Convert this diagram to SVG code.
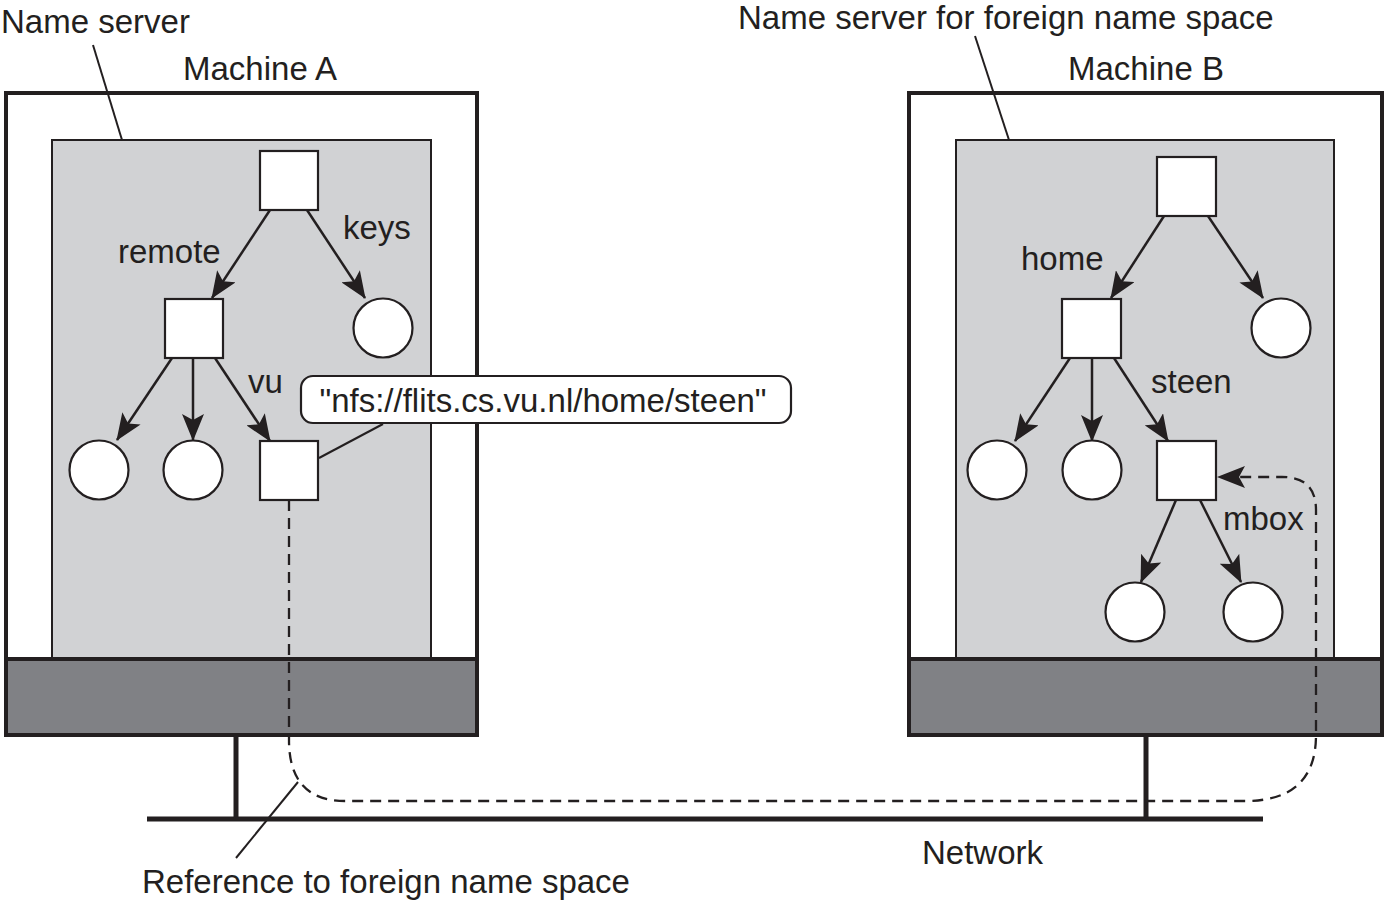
<svg xmlns="http://www.w3.org/2000/svg" width="1388" height="904" viewBox="0 0 1388 904">
<style>
text{font-family:"Liberation Sans",Arial,sans-serif;font-size:33px;fill:#231f20}
.frame{fill:#fff;stroke:#231f20;stroke-width:4}
.inner{fill:#d1d2d4;stroke:#231f20;stroke-width:2}
.base{fill:#808185;stroke:#231f20;stroke-width:4}
.node{fill:#fff;stroke:#231f20;stroke-width:2.2}
.edge{stroke:#231f20;stroke-width:2.5;fill:none;marker-end:url(#ah)}
.thin{stroke:#231f20;stroke-width:2;fill:none}
.net{stroke:#231f20;stroke-width:5;fill:none}
.dash{stroke:#231f20;stroke-width:2.3;fill:none;stroke-dasharray:11 7}
</style>
<defs>
<marker id="ah" markerUnits="userSpaceOnUse" markerWidth="27" markerHeight="22" viewBox="0 0 27 22" refX="26" refY="11" orient="auto">
<path d="M0,0 L27,11 L0,22 L6,11 Z" fill="#231f20"/>
</marker>
</defs>
<rect width="1388" height="904" fill="#fff"/>

<g id="machineA">
<rect class="frame" x="6" y="93" width="471" height="642"/>
<rect class="inner" x="52" y="140" width="379" height="520"/>
<rect class="base" x="6" y="659" width="471" height="76"/>
<text x="183" y="80">Machine A</text>
</g>
<g id="machineB">
<rect class="frame" x="909" y="93" width="473" height="642"/>
<rect class="inner" x="956" y="140" width="378" height="520"/>
<rect class="base" x="909" y="659" width="473" height="76"/>
<text x="1068" y="80">Machine B</text>
</g>

<g id="connectors">
<line class="edge" x1="270" y1="210" x2="212" y2="298"/>
<line class="edge" x1="307" y1="210" x2="365" y2="298"/>
<line class="edge" x1="172" y1="358" x2="117" y2="440"/>
<line class="edge" x1="193" y1="358" x2="193" y2="440"/>
<line class="edge" x1="215" y1="358" x2="270" y2="441"/>
<line class="edge" x1="1164" y1="216" x2="1111" y2="298"/>
<line class="edge" x1="1208" y1="216" x2="1263" y2="298"/>
<line class="edge" x1="1070" y1="358" x2="1015" y2="441"/>
<line class="edge" x1="1092" y1="358" x2="1092" y2="441"/>
<line class="edge" x1="1114" y1="358" x2="1168" y2="441"/>
<line class="edge" x1="1176" y1="500" x2="1141" y2="582"/>
<line class="edge" x1="1200" y1="500" x2="1241" y2="582"/>
<line class="thin" x1="319" y1="458" x2="383" y2="424"/>
<line class="thin" x1="93" y1="45" x2="122" y2="140"/>
<line class="thin" x1="975" y1="36" x2="1009" y2="140"/>
<line class="thin" x1="298" y1="782" x2="236" y2="858"/>
<line class="net" x1="147" y1="819" x2="1263" y2="819"/>
<line class="net" x1="236" y1="735" x2="236" y2="819"/>
<line class="net" x1="1146" y1="735" x2="1146" y2="819"/>
<path class="dash" d="M289,500 L289,740 Q289,801 345,801 L1245,801 Q1316,801 1316,735 L1316,510 Q1316,477 1282,477 L1232,477"/>
<path d="M1217,477 L1245,466 L1239,477 L1245,488 Z" fill="#231f20"/>
</g>

<g id="nodesA">
<rect class="node" x="260" y="151" width="58" height="59"/>
<rect class="node" x="165" y="299" width="58" height="59"/>
<circle class="node" cx="383" cy="328" r="29.5"/>
<circle class="node" cx="99" cy="470" r="29.5"/>
<circle class="node" cx="193" cy="470" r="29.5"/>
<rect class="node" x="260" y="441" width="58" height="59"/>
</g>
<g id="nodesB">
<rect class="node" x="1157" y="157" width="59" height="59"/>
<rect class="node" x="1062" y="299" width="59" height="59"/>
<circle class="node" cx="1281" cy="328" r="29.5"/>
<circle class="node" cx="997" cy="470" r="29.5"/>
<circle class="node" cx="1092" cy="470" r="29.5"/>
<rect class="node" x="1157" y="441" width="59" height="59"/>
<circle class="node" cx="1135" cy="612" r="29.5"/>
<circle class="node" cx="1253" cy="612" r="29.5"/>
</g>

<g id="callout">
<rect class="node" x="301" y="376" width="490" height="47" rx="12"/>
<text x="543" y="412" text-anchor="middle" font-size="33.5">"nfs://flits.cs.vu.nl/home/steen"</text>
</g>

<g id="labels">
<text x="1" y="33">Name server</text>
<text x="738" y="29">Name server for foreign name space</text>
<text x="118" y="263">remote</text>
<text x="343" y="239">keys</text>
<text x="248" y="393">vu</text>
<text x="1021" y="270">home</text>
<text x="1151" y="393">steen</text>
<text x="1223" y="530">mbox</text>
<text x="142" y="893">Reference to foreign name space</text>
<text x="922" y="864">Network</text>
</g>
</svg>
